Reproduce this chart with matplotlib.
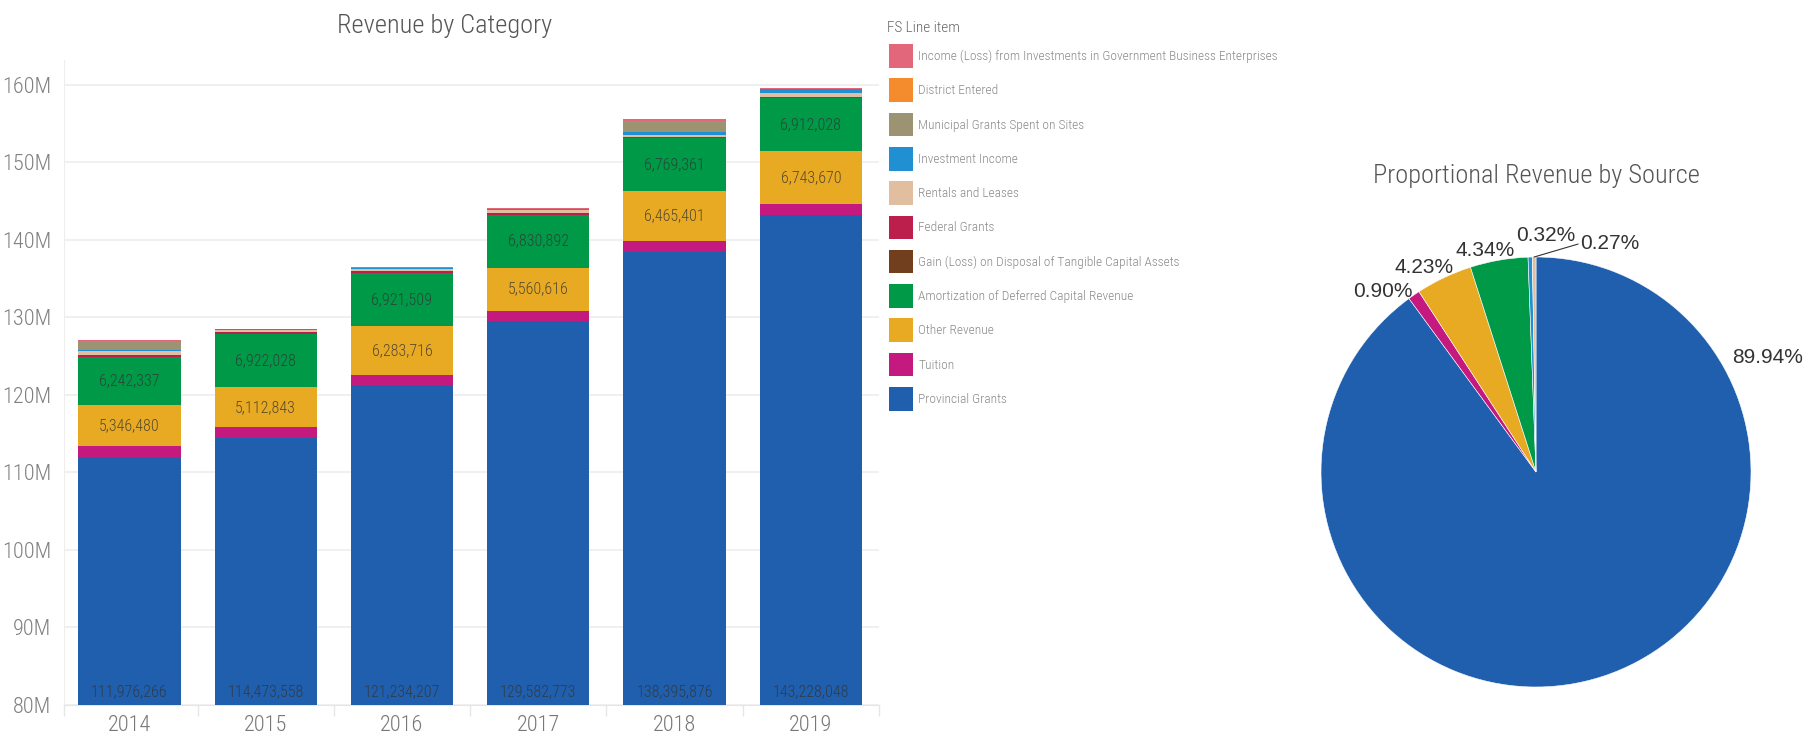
import os
import numpy as np
import matplotlib
matplotlib.use("Agg")
import matplotlib.pyplot as plt
from matplotlib import font_manager as fm
from matplotlib.patches import Patch

# ---------------- data ----------------
years = ["2014", "2015", "2016", "2017", "2018", "2019"]

# stack order bottom -> top
provincial_grants = [111976266, 114473558, 121234207, 129582773, 138395876, 143228048]
tuition = [1380000, 1380000, 1340000, 1290000, 1500000, 1433000]
other_revenue = [5346480, 5112843, 6283716, 5560616, 6465401, 6743670]
amortization = [6242337, 6922028, 6921509, 6830892, 6769361, 6912028]
gain_loss_disposal = [0, 0, 0, 0, 0, 0]
federal_grants = [170000, 200000, 200000, 200000, 150000, 150000]
rentals_leases = [550000, 250000, 250000, 350000, 300000, 430000]
investment_income = [170000, 100000, 150000, 150000, 300000, 510000]
municipal_grants = [1100000, 0, 0, 0, 1450000, 0]
district_entered = [0, 0, 0, 0, 50000, 0]
income_loss_gbe = [170000, 100000, 150000, 200000, 150000, 150000]

categories = [
    "Provincial Grants", "Tuition", "Other Revenue",
    "Amortization of Deferred Capital Revenue",
    "Gain (Loss) on Disposal of Tangible Capital Assets",
    "Federal Grants", "Rentals and Leases", "Investment Income",
    "Municipal Grants Spent on Sites", "District Entered",
    "Income (Loss) from Investments in Government Business Enterprises",
]
series = [provincial_grants, tuition, other_revenue, amortization,
          gain_loss_disposal, federal_grants, rentals_leases,
          investment_income, municipal_grants, district_entered,
          income_loss_gbe]
colors = ["#1F5FAD", "#C4197F", "#E9AA23", "#009947", "#713F1D",
          "#BC1F4B", "#E2BEA0", "#2190D2", "#9C9373", "#F48B2D", "#E2677A"]
labelled = {"Provincial Grants", "Other Revenue",
            "Amortization of Deferred Capital Revenue"}

y_ticks = [80e6, 90e6, 100e6, 110e6, 120e6, 130e6, 140e6, 150e6, 160e6]

pie_categories = ["Provincial Grants", "Tuition", "Other Revenue",
                  "Amortization of Deferred Capital Revenue",
                  "Investment Income", "Rentals and Leases"]
pie_shares = [89.94, 0.90, 4.23, 4.34, 0.32, 0.27]

# ---------------- fonts ----------------
def pick_font(prefs):
    entries = [(os.path.basename(f.fname).lower(), f.fname) for f in fm.fontManager.ttflist]
    for p in prefs:
        for name, path in entries:
            if name.startswith(p.lower()):
                return path
    return None

cond_path = pick_font(["NotoSans-ExtraCondensedLight", "NotoSans-CondensedLight",
                       "RobotoCondensed-Light", "Roboto_Condensed-Light",
                       "LiberationSansNarrow-Regular", "DejaVuSansCondensed.ttf"])

def cfont(size):
    if cond_path:
        return fm.FontProperties(fname=cond_path, size=size)
    return fm.FontProperties(family="DejaVu Sans", size=size)

# ---------------- figure ----------------
fig = plt.figure(figsize=(18.14, 7.38), dpi=100)
W, H = 1814, 738

ax = fig.add_axes([64 / W, 1 - 705 / H, (879 - 64) / W, (705 - 60) / H])
x = np.arange(len(years))
bottom = np.zeros(len(years))
for cat, vals, col in zip(categories, series, colors):
    vals = np.array(vals, dtype=float)
    ax.bar(x, vals, 0.75, bottom=bottom, color=col, zorder=3)
    if cat in labelled:
        for xi, b, v in zip(x, bottom, vals):
            if cat == "Provincial Grants":
                ax.annotate(f"{int(v):,}", (xi, y_ticks[0]), xytext=(0, 6),
                            textcoords="offset pixels", ha="center", va="bottom",
                            color="#333333", alpha=0.8, fontproperties=cfont(11.5),
                            zorder=4)
            else:
                ax.text(xi, b + v / 2, f"{int(v):,}", ha="center", va="center",
                        color="#333333", alpha=0.8, fontproperties=cfont(11.5),
                        zorder=4)
    bottom += vals

ax.set_xlim(-0.48, 5.5)
ax.set_ylim(80e6, 163.2e6)
ax.set_yticks(y_ticks)
ax.set_yticklabels([f"{v / 1e6:.0f}M" for v in y_ticks])
ax.set_xticks(x)
ax.set_xticklabels(years)
ax.set_xticks([-0.48] + (x + 0.5).tolist(), minor=True)
ax.tick_params(axis="y", length=0, pad=9, colors="#808080")
ax.tick_params(axis="x", which="major", length=0, pad=7, colors="#777777")
ax.tick_params(axis="x", which="minor", length=8, width=1, color="#e6e6e6")
for lab in ax.get_yticklabels():
    lab.set_fontproperties(cfont(16))
for lab in ax.get_xticklabels():
    lab.set_fontproperties(cfont(16))
ax.grid(axis="y", color="#eeeeee", linewidth=1.2, zorder=0)
for s in ["top", "right"]:
    ax.spines[s].set_visible(False)
ax.spines["left"].set_color("#eeeeee")
ax.spines["bottom"].set_color("#e6e6e6")

fig.text(445 / W, 1 - 26 / H, "Revenue by Category", ha="center", va="center",
         color="#555555", fontproperties=cfont(19))

# ---------------- legend ----------------
fig.text(887 / W, 1 - 28 / H, "FS Line item", ha="left", va="center",
         color="#666666", fontproperties=cfont(11))
handles = [Patch(facecolor=c, edgecolor="none") for c in colors][::-1]
leg = fig.legend(handles, categories[::-1], loc="upper left",
                 bbox_to_anchor=(889 / W, 1 - 44 / H), frameon=False,
                 prop=cfont(9.6),
                 handlelength=1.8, handleheight=2.35, labelspacing=0.8,
                 handletextpad=0.4, borderpad=0, borderaxespad=0)
for t in leg.get_texts():
    t.set_color("#8a8a8a")

# ---------------- pie ----------------
cx, cy, r = 1536, 472, 215
pax = fig.add_axes([(cx - r) / W, (H - cy - r) / H, 2 * r / W, 2 * r / H])
pie_colors = [colors[categories.index(c)] for c in pie_categories]
wedges, _ = pax.pie(pie_shares, colors=pie_colors, startangle=90, counterclock=False,
                    wedgeprops=dict(edgecolor="white", linewidth=0.4))
pax.set_xlim(-1, 1)
pax.set_ylim(-1, 1)
pax.set_aspect("equal")

# label layout: (angle in degrees, distance in radii)
label_layout = [(26.4, 1.2), (130.2, 1.10), (118.8, 1.085), (103.0, 1.055),
                (87.6, 1.10), (72.2, 1.115)]
for w, share, (ang, dist) in zip(wedges, pie_shares, label_layout):
    a = np.deg2rad(ang)
    pax.text(dist * np.cos(a), dist * np.sin(a), f"{share:.2f}%", ha="center",
             va="center", fontsize=15, family="Liberation Sans", color="#333333",
             clip_on=False)
# leader line for the smallest slice
w = wedges[-1]
mid = np.deg2rad((w.theta1 + w.theta2) / 2)
pax.plot([np.cos(mid), 0.195], [np.sin(mid), 1.06], color="#333333", lw=0.8,
         clip_on=False)

fig.text(cx / W, 1 - 176 / H, "Proportional Revenue by Source", ha="center",
         va="center", color="#555555", fontproperties=cfont(19))

fig.savefig("out.png", dpi=100)
